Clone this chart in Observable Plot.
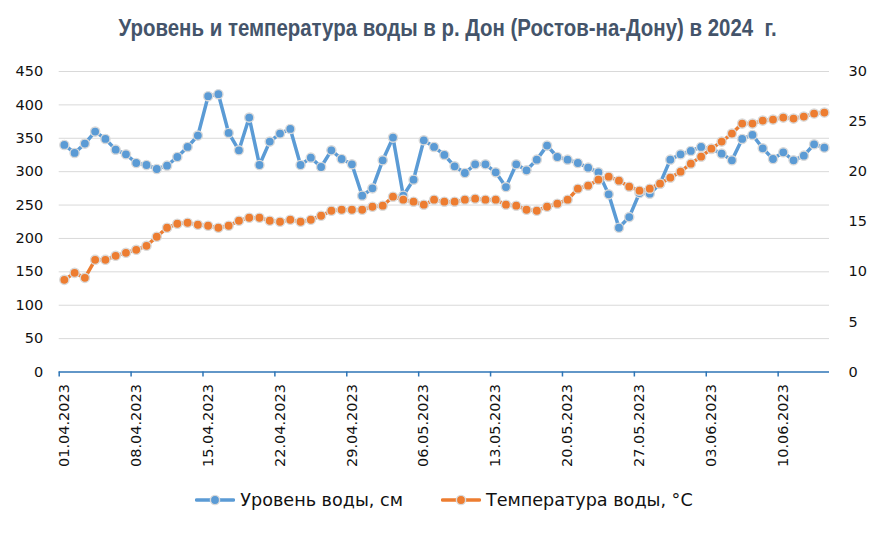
<!DOCTYPE html>
<html>
<head>
<meta charset="utf-8">
<script src="https://cdn.jsdelivr.net/npm/d3@7"></script>
<script src="https://cdn.jsdelivr.net/npm/@observablehq/plot@0.6"></script>
<style>
  html, body { margin: 0; padding: 0; background: #fff; }
  #wrap { position: relative; width: 880px; height: 534px; overflow: hidden; }
  #title { position: absolute; left: 8px; top: 15px; width: 880px; text-align: center; }
  #title span { display: inline-block; transform-origin: 50% 50%;
    font-family: "Liberation Sans", Arial, sans-serif;
    font-weight: bold; font-size: 23px; color: #44546A; white-space: nowrap; }
  #chart { position: absolute; left: 0; top: 50px; }
  #legend { position: absolute; left: 4px; top: 490px; width: 880px; display: flex; justify-content: center; align-items: center;
    font-family: "DejaVu Sans", sans-serif; font-size: 17.6px; color: #111; }
  .item { display: flex; align-items: center; margin: 0 19px; }
  .item svg { margin-right: 5px; }
</style>
</head>
<body>
<div id="wrap">
  <div id="title"><span id="titleText">Уровень и температура воды в р. Дон (Ростов-на-Дону) в 2024&nbsp; г.</span></div>
  <div id="chart"></div>
  <div id="legend"></div>
</div>
<script>
// Уровень воды, см (daily, 01.04.2023 – 14.06.2023)
const level = [340,328,342,360,349,333,326,313,310,304,
               309,322,337,354,413,416,358,332,381,310,
               345,357,364,310,321,307,332,319,311,264,
               275,317,351,264,288,347,337,325,308,298,
               311,311,299,277,311,302,318,339,322,318,
               313,306,299,266,216,232,268,267,282,318,
               326,331,337,334,327,317,349,355,335,319,
               329,317,324,341,336];
// Температура воды, °C
const temp = [9.2,9.9,9.4,11.2,11.2,11.6,11.9,12.2,12.6,13.5,
              14.4,14.8,14.9,14.7,14.6,14.4,14.6,15.1,15.4,15.4,
              15.1,15.0,15.2,15.0,15.2,15.6,16.1,16.2,16.2,16.2,
              16.5,16.6,17.5,17.2,17.0,16.7,17.2,17.0,17.0,17.2,
              17.3,17.2,17.2,16.7,16.6,16.2,16.1,16.5,16.8,17.2,
              18.3,18.6,19.2,19.5,19.1,18.5,18.1,18.3,18.8,19.4,
              20.0,20.8,21.5,22.3,23.0,23.8,24.8,24.8,25.1,25.2,
              25.4,25.3,25.5,25.8,25.9];
const startDate = "2023-04-01";
const tickLabels = ["01.04.2023","08.04.2023","15.04.2023","22.04.2023","29.04.2023",
                    "06.05.2023","13.05.2023","20.05.2023","27.05.2023","03.06.2023","10.06.2023"];
const levelTicks = [0,50,100,150,200,250,300,350,400,450];
const tempTicks = [0,5,10,15,20,25,30];
const seriesNames = ["Уровень воды, см", "Температура воды, °C"];
const colors = ["#5B9BD5", "#ED7D31"];

// condensed title (narrow bold face emulated)
const tt = document.getElementById("titleText");
const tw = tt.getBoundingClientRect().width;
tt.style.transform = `scaleX(${658 / tw})`;

const fmt = d3.utcFormat("%d.%m.%Y");
const t0 = new Date(startDate + "T00:00:00Z");
const dates = level.map((_, i) => fmt(d3.utcDay.offset(t0, i)));
const ratio = levelTicks[levelTicks.length - 1] / tempTicks[tempTicks.length - 1];
const rows = level.map((v, i) => ({i, date: dates[i], level: v, temp: temp[i], tempScaled: temp[i] * ratio}));
const labelIdx = tickLabels.map(l => dates.indexOf(l));
const boundaries = labelIdx.map(i => i - 0.5);

const chart = Plot.plot({
  width: 880,
  height: 430,
  marginLeft: 58.7,
  marginRight: 51,
  marginTop: 21,
  marginBottom: 108.5,
  style: {fontFamily: "DejaVu Sans, sans-serif", fontSize: "14.5px", color: "#111", background: "transparent"},
  x: {domain: [-0.5, level.length - 0.5], axis: null},
  y: {domain: [0, 450], axis: null, label: null},
  marks: [
    Plot.gridY(levelTicks.slice(1), {stroke: "#D9D9D9", strokeOpacity: 1, strokeWidth: 1}),
    Plot.axisY({ticks: levelTicks, tickSize: 0, tickPadding: 16, label: null, anchor: "left"}),
    Plot.axisY({ticks: tempTicks.map(t => t * ratio), tickFormat: d => d / ratio, tickSize: 0, tickPadding: 19, label: null, anchor: "right"}),
    Plot.ruleY([0], {stroke: "#2E75B6", strokeWidth: 1.5}),
    Plot.axisX({ticks: boundaries, tickSize: 5, tickFormat: () => "", stroke: "#2E75B6", strokeWidth: 1.5, label: null}),
    Plot.axisX({ticks: labelIdx, tickFormat: i => dates[i], tickSize: 0, tickPadding: 12, tickRotate: -90, label: null}),
    Plot.line(rows, {x: "i", y: "level", stroke: colors[0], strokeWidth: 3.5}),
    Plot.dot(rows, {x: "i", y: "level", r: 4.6, fill: colors[0], stroke: "#DADADA", strokeWidth: 1.4}),
    Plot.line(rows, {x: "i", y: "tempScaled", stroke: colors[1], strokeWidth: 3.5}),
    Plot.dot(rows, {x: "i", y: "tempScaled", r: 4.6, fill: colors[1], stroke: "#DADADA", strokeWidth: 1.4})
  ]
});
document.getElementById("chart").appendChild(chart);

const legend = document.getElementById("legend");
seriesNames.forEach((name, k) => {
  const item = document.createElement("div");
  item.className = "item";
  item.innerHTML = `<svg width="40" height="14" viewBox="0 0 40 14"><line x1="1.5" y1="7" x2="38.5" y2="7" stroke="${colors[k]}" stroke-width="3.5" stroke-linecap="round"/><circle cx="20" cy="7" r="4.6" fill="${colors[k]}" stroke="#DADADA" stroke-width="1.4"/></svg><span>${name}</span>`;
  legend.appendChild(item);
});
</script>
</body>
</html>
